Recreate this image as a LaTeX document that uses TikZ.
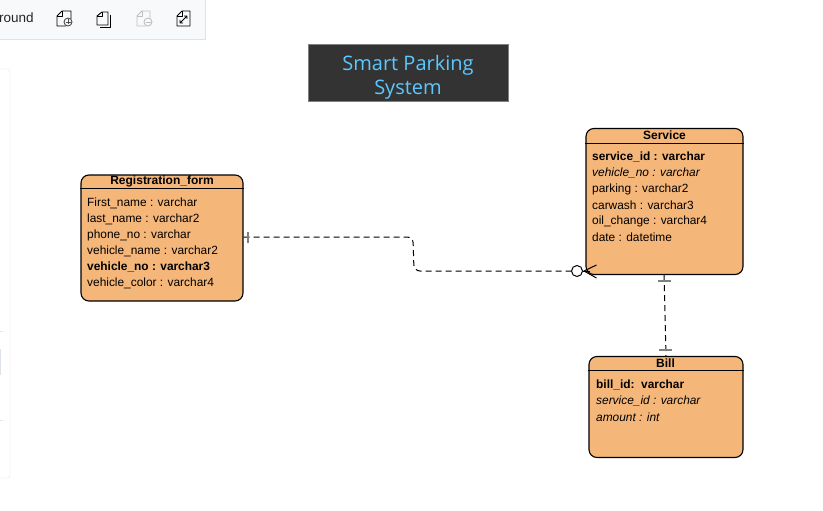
\documentclass[tikz,border=0pt]{standalone}
\usepackage{fontspec}
\setmainfont{Liberation Sans}
\newfontfamily\titlefont{Open Sans}
\definecolor{entityfill}{HTML}{F5B679}
\definecolor{titlefill}{HTML}{333333}
\definecolor{titletext}{HTML}{5CC8FF}
\definecolor{barcol}{HTML}{808080}
\definecolor{barfill}{HTML}{F8F9FB}
\definecolor{panelline}{HTML}{E0E2E4}
\definecolor{panelstrip}{HTML}{DDE3E8}
\tikzset{
entity/.style = {draw, line width = 1.1pt, fill = entityfill, rounded corners = 8pt, inner sep = 0pt},
row/.style = {anchor = west, inner sep = 0pt, font = \fontsize{11.9}{14}\selectfont},
head/.style = {inner sep = 0pt, font = \fontsize{12}{14}\selectfont\bfseries},
rel/.style = {dash pattern = on 6pt off 4pt, line width = 1pt},
bar/.style = {draw = barcol, line width = 1.5pt},
icon/.style = {line width = 0.9pt, line join = round}
}
\begin{document}
\begin{tikzpicture}[x = 1pt, y = -1pt]
\useasboundingbox (0,0) rectangle (823,511);
% toolbar and side panel
\fill[barfill] (-2,-2) rectangle (205,39);
\draw[panelline] (205,-2) -- (205,39) -- (-2,39);
\draw[panelline, rounded corners = 3pt] (-2,69) -- (10,69) -- (10,478) -- (-2,478);
\draw[panelline] (0,331) -- (3,331);
\draw[panelline] (0,420) -- (3,420);
\fill[panelstrip] (0,349) rectangle (1,375);
\node[row, text = black!85, font = \fontsize{13.5}{16}\selectfont] (bgtext) at (-1,18) {round};
% page icons
\draw[icon] (66,26) -- (57,26) -- (57,16) -- (62,11) -- (71,11) -- (71,19);
\draw[icon] (57,16) -- (62,16) -- (62,11);
\draw[icon, black!70] (68,22) circle (4pt);
\draw[icon, black!70] (65.5,22) -- (70.5,22) (68,19.5) -- (68,24.5);
\draw[icon] (108,25) -- (97,25) -- (97,16) -- (102,12) -- (108,12) -- cycle;
\draw[icon] (97,16) -- (102,16) -- (102,12);
\draw[icon] (110.5,15) -- (110.5,27) -- (100,27);
\draw[icon, black!25] (146,26) -- (137,26) -- (137,16) -- (142,11) -- (150,11) -- (150,19);
\draw[icon, black!25] (137,16) -- (142,16) -- (142,11);
\draw[icon, black!25] (148,22) circle (4pt);
\draw[icon, black!25] (145.5,22) -- (150.5,22);
\draw[icon] (177,26) -- (177,16) -- (182,11) -- (190,11) -- (190,26) -- cycle;
\draw[icon] (177,16) -- (182,16) -- (182,11);
\draw[icon, line width = 0.8pt] (180,23) -- (187,16) (184,16) -- (187,16) -- (187,19) (180,20) -- (180,23) -- (183,23);
% title
\node[draw = barcol, fill = titlefill, minimum width = 200pt, minimum height = 57pt, inner sep = 0pt] (title) at (408,72.5) {};
\node[inner sep = 0pt, text = titletext, font = \titlefont\fontsize{20}{24}\selectfont, align = center] (titletxt) at (408,77) {Smart Parking\\System};
% Registration_form
\node[entity, minimum width = 162pt, minimum height = 126pt] (regform) at (162,238) {};
\draw[line width = 1pt] (regform.west |- 0,188) -- (regform.east |- 0,188);
\node[head] (reghead) at (162,181) {Registration\_form};
\node[row] (reg1) at (87,203) {First\_name : varchar};
\node[row] (reg2) at (87,219) {last\_name : varchar2};
\node[row] (reg3) at (87,235) {phone\_no : varchar};
\node[row] (reg4) at (87,251) {vehicle\_name : varchar2};
\node[row] (reg5) at (87,267) {\bfseries vehicle\_no : varchar3};
\node[row] (reg6) at (87,283) {vehicle\_color : varchar4};
% Service
\node[entity, minimum width = 157pt, minimum height = 146pt] (service) at (664.5,201.5) {};
\draw[line width = 1pt] (service.west |- 0,143) -- (service.east |- 0,143);
\node[head] (servhead) at (664.5,135) {Service};
\node[row] (serv1) at (592,157) {\bfseries service\_id : varchar};
\node[row] (serv2) at (592,173) {\itshape vehicle\_no : varchar};
\node[row] (serv3) at (592,189) {parking : varchar2};
\node[row] (serv4) at (592,205) {carwash : varchar3};
\node[row] (serv5) at (592,221) {oil\_change : varchar4};
\node[row] (serv6) at (592,237) {date : datetime};
% Bill
\node[entity, minimum width = 154pt, minimum height = 101pt] (bill) at (666,407) {};
\draw[line width = 1pt] (bill.west |- 0,370) -- (bill.east |- 0,370);
\node[head] (billhead) at (665.5,363) {Bill};
\node[row] (bill1) at (596,385) {\bfseries bill\_id:\ \ varchar};
\node[row] (bill2) at (596,401) {\itshape service\_id : varchar};
\node[row] (bill3) at (596,417) {\itshape amount : int};
% relations
\node[draw, circle, line width = 1pt, fill = white, minimum size = 11pt, inner sep = 0pt] (zero) at (577,271) {};
\coordinate (crow) at (584,271);
\draw[rel, rounded corners = 6pt] (regform.east |- 0,237) -- (413,237) -- (414,271) -- (zero.west);
\draw[bar] (248,232) -- (248,243);
\draw[line width = 1pt] (zero.east) -- (590,271);
\draw[line width = 1pt] (596.5,265) -- (crow) -- (596.5,278);
\draw[rel] (service.south -| 664,0) -- (bill.north -| 666,0);
\draw[bar] (658,281) -- (671,281);
\draw[bar] (659,350) -- (672,350);
\end{tikzpicture}
\end{document}
